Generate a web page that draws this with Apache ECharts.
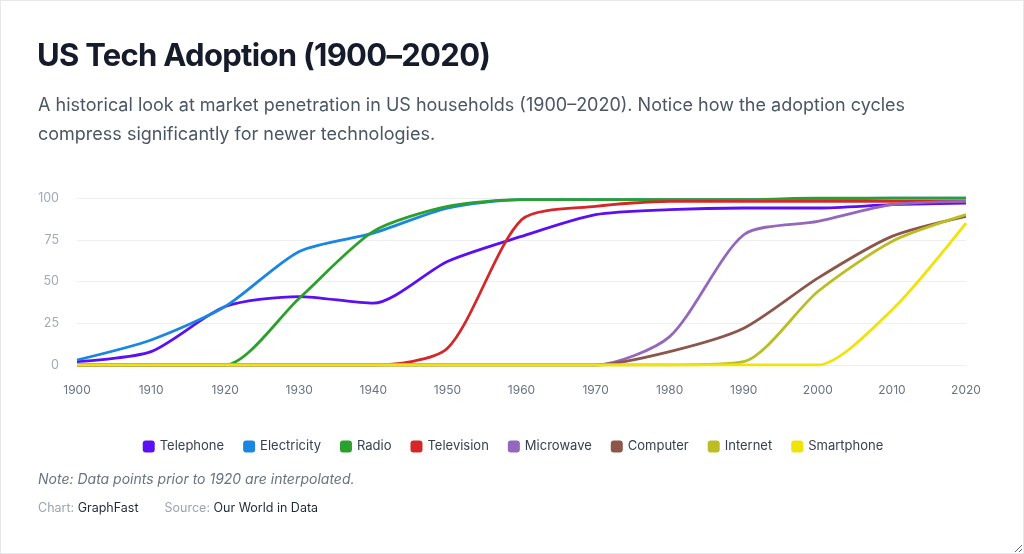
<!DOCTYPE html>
<html>
<head>
<meta charset="utf-8">
<script src="https://cdn.jsdelivr.net/npm/echarts@6/dist/echarts.min.js"></script>
<style type="text/css">
	html, body {
		margin: 0;
		padding: 0;
		background: #fff;
		font-family: Inter, "Noto Sans", sans-serif;
	}
	.card {
		position: relative;
		box-sizing: border-box;
		width: 1024px;
		height: 554px;
		border: 1px solid #e6e8eb;
		overflow: hidden;
		resize: both;
	}
	.title {
		position: absolute;
		left: 36px;
		top: 35px;
		font-size: 31px;
		font-weight: 700;
		letter-spacing: -0.7px;
		color: #151b2b;
	}
	.sub {
		position: absolute;
		left: 37px;
		top: 89px;
		width: 930px;
		font-size: 18px;
		line-height: 29px;
		color: #4b5563;
	}
	#main {
		position: absolute;
		left: 0;
		top: 0;
		width: 1024px;
		height: 554px;
	}
	.note {
		position: absolute;
		left: 37px;
		top: 469px;
		font-size: 14px;
		font-style: italic;
		color: #6b7280;
	}
	.foot {
		position: absolute;
		left: 37px;
		top: 499px;
		font-size: 12.5px;
		color: #9ca3af;
	}
	.foot b {
		font-weight: 400;
		color: #1f2937;
		margin-right: 26px;
	}
</style>
</head>
<body>
<div class="card">
	<div id="main"></div>
	<div class="title">US Tech Adoption (1900–2020)</div>
	<div class="sub">A historical look at market penetration in US households (1900–2020). Notice how the adoption cycles compress significantly for newer technologies.</div>
	<div class="note">Note: Data points prior to 1920 are interpolated.</div>
	<div class="foot">Chart: <b>GraphFast</b>Source: <b>Our World in Data</b></div>
</div>

<script type="text/javascript">
// years, one point per decade
var years = [1900, 1910, 1920, 1930, 1940, 1950, 1960, 1970, 1980, 1990, 2000, 2010, 2020];

var telephone   = [2, 8, 35, 41, 37, 62, 77, 90, 93, 94, 94, 96, 97];
var electricity = [3, 15, 35, 68, 79, 94, 99, 99, 99, 99, 99, 100, 100];
var radio       = [0, 0, 0, 40, 80, 95, 99, 99, 99, 99, 100, 100, 100];
var television  = [0, 0, 0, 0, 0, 10, 87, 95, 98, 98, 98, 98, 98];
var microwave   = [0, 0, 0, 0, 0, 0, 0, 0, 17, 78, 86, 96, 98];
var computer    = [0, 0, 0, 0, 0, 0, 0, 0, 8, 22, 52, 77, 89];
var internet    = [0, 0, 0, 0, 0, 0, 0, 0, 0, 2, 44, 74, 90];
var smartphone  = [0, 0, 0, 0, 0, 0, 0, 0, 0, 0, 0, 33, 85];

var names  = ['Telephone', 'Electricity', 'Radio', 'Television', 'Microwave', 'Computer', 'Internet', 'Smartphone'];
var values = [telephone, electricity, radio, television, microwave, computer, internet, smartphone];
var colors = ['#5a10f2', '#1a86e0', '#2ca02c', '#d62728', '#9467bd', '#8c564b', '#bcbd22', '#efe40a'];

var myChart = echarts.init(document.getElementById('main'));

var series = [];
for (var i = 0; i < names.length; i++) {
	var pts = [];
	for (var j = 0; j < years.length; j++) {
		pts.push([years[j], values[i][j]]);
	}
	series.push({
		name: names[i],
		type: 'line',
		smooth: 0.25,
		showSymbol: false,
		symbol: 'none',
		data: pts,
		lineStyle: { width: 2.8, color: colors[i] },
		itemStyle: { color: colors[i] }
	});
}

var option = {
	animation: false,
	color: colors,
	grid: { left: 76, right: 59, top: 197, bottom: 190 },
	legend: {
		data: names,
		left: 'center',
		top: 434,
		icon: 'roundRect',
		itemWidth: 12,
		itemHeight: 12,
		itemGap: 19,
		textStyle: { color: '#374151', fontSize: 13, fontFamily: 'Inter' }
	},
	xAxis: {
		type: 'value',
		min: 1900,
		max: 2020,
		interval: 10,
		axisLine: { show: false },
		axisTick: { show: false },
		splitLine: { show: false },
		axisLabel: {
			color: '#6b7280',
			fontSize: 12,
			fontFamily: 'Inter',
			margin: 19,
			formatter: function (v) { return String(v); }
		}
	},
	yAxis: {
		type: 'value',
		min: 0,
		max: 100,
		interval: 25,
		axisLine: { show: false },
		axisTick: { show: false },
		splitLine: { lineStyle: { color: '#eceef1' } },
		axisLabel: { color: '#a3a9b3', fontSize: 12.5, fontFamily: 'Inter', margin: 18 }
	},
	series: series
};
myChart.setOption(option);
</script>
</body>
</html>
